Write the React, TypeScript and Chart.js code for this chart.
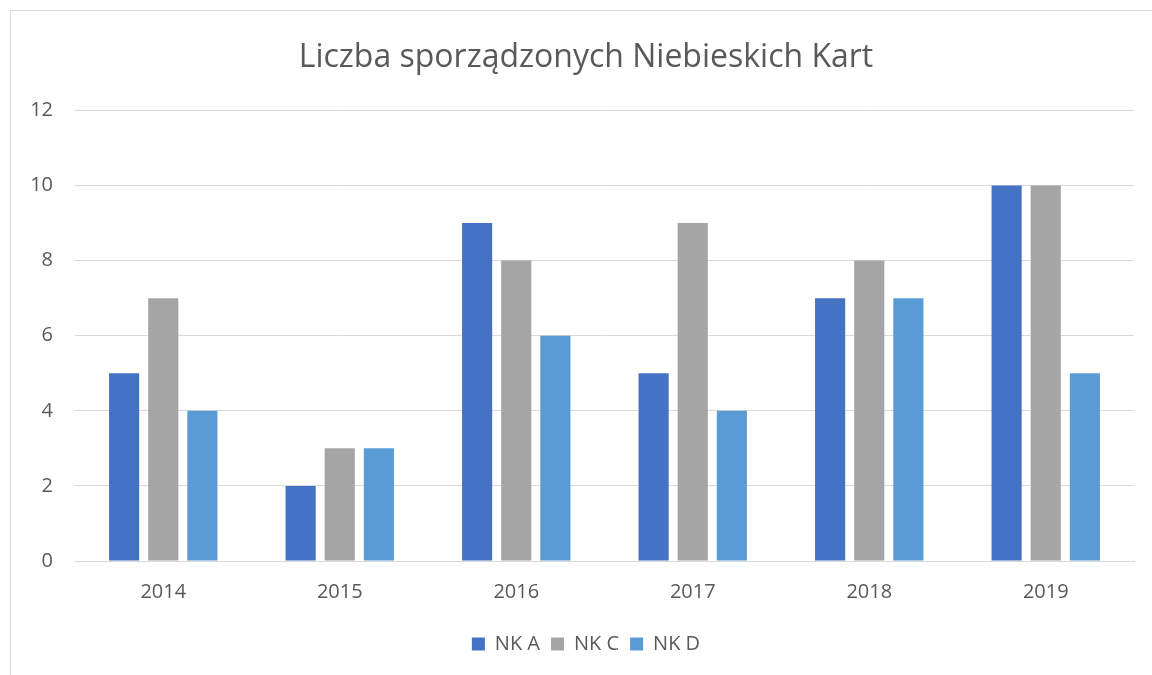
import React, { useEffect, useRef } from "react";
import { Chart, registerables } from "chart.js";

Chart.register(...registerables);

const categories = ["2014", "2015", "2016", "2017", "2018", "2019"];
const nkA = [5, 2, 9, 5, 7, 10];
const nkC = [7, 3, 8, 9, 8, 10];
const nkD = [4, 3, 6, 4, 7, 5];
const seriesNames = ["NK A", "NK C", "NK D"];
const seriesColors = ["#4472C4", "#A5A5A5", "#5B9BD5"];
const titleText = "Liczba sporządzonych Niebieskich Kart";

const FONT = "'Open Sans', 'DejaVu Sans', sans-serif";

const unclipYLabels = {
  id: "unclipYLabels",
  afterLayout(chart: any) {
    const y = chart.scales.y;
    if (y) y.left = 0;
  },
};

export default function App() {
  const ref = useRef<HTMLCanvasElement | null>(null);

  useEffect(() => {
    if (!ref.current) return;
    const values = [nkA, nkC, nkD];
    const chart = new Chart(ref.current, {
      type: "bar",
      data: {
        labels: categories,
        datasets: seriesNames.map((name, i) => ({
          label: name,
          data: values[i],
          backgroundColor: seriesColors[i],
          borderWidth: 0,
          barPercentage: 0.77,
          categoryPercentage: 0.665,
        })),
      },
      plugins: [unclipYLabels],
      options: {
        animation: false,
        responsive: false,
        maintainAspectRatio: false,
        layout: { padding: { left: 38, right: 18, top: 39, bottom: 11 } },
        plugins: {
          title: {
            display: true,
            text: titleText,
            color: "#595959",
            font: { family: FONT, size: 32, weight: "normal" },
            padding: { top: 0, bottom: 33 },
          },
          legend: {
            position: "bottom",
            labels: {
              color: "#595959",
              font: { family: FONT, size: 20 },
              boxWidth: 13,
              boxHeight: 13,
              padding: 11,
            },
          },
          tooltip: { enabled: false },
        },
        scales: {
          x: {
            grid: { display: false, drawTicks: false },
            border: { color: "#d9d9d9", width: 1 },
            ticks: {
              color: "#595959",
              font: { family: FONT, size: 20 },
              padding: 19,
            },
          },
          y: {
            min: 0,
            max: 12,
            ticks: {
              stepSize: 2,
              color: "#595959",
              font: { family: FONT, size: 20 },
              padding: 22,
            },
            grid: { color: "#d9d9d9", lineWidth: 1, drawTicks: false },
            border: { display: false },
            afterFit: (scale: any) => {
              scale.width = 37;
            },
          },
        },
      },
    });
    return () => chart.destroy();
  }, []);

  return (
    <div style={{ position: "fixed", left: 0, top: 0, width: 1152, height: 675, background: "#fff", overflow: "hidden" }}>
      <div
        style={{
          position: "absolute",
          left: 10,
          top: 10,
          width: 1160,
          height: 700,
          border: "1px solid #d9d9d9",
          boxSizing: "border-box",
        }}
      />
      <canvas ref={ref} width={1152} height={675} style={{ position: "absolute", left: 0, top: 0 }} />
    </div>
  );
}
